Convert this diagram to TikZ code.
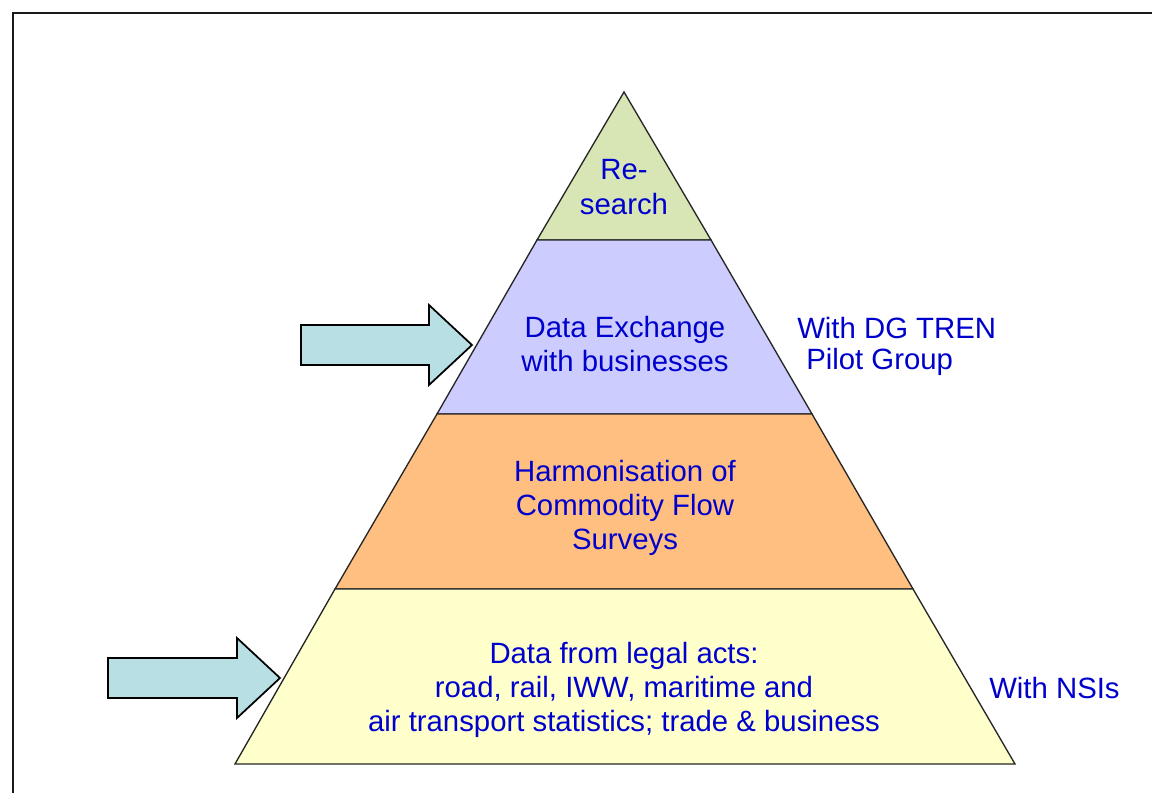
\documentclass[tikz,border=0pt]{standalone}
\usepackage{fontspec}
\setmainfont{Liberation Sans}
\definecolor{txtblue}{HTML}{0000CC}
\definecolor{lvgreen}{HTML}{D8E6B6}
\definecolor{lvlav}{HTML}{CCCCFF}
\definecolor{lvorange}{HTML}{FFBF80}
\definecolor{lvyellow}{HTML}{FFFFCC}
\definecolor{arrfill}{HTML}{B8DFE3}
\begin{document}
\begin{tikzpicture}[x=0.75pt,y=-0.75pt,
  layer/.style={draw=black!85,line width=1pt,line join=miter},
  lbl/.style={text=txtblue,font=\fontsize{22}{25.8}\selectfont,align=center,inner sep=0pt},
  sidelbl/.style={text=txtblue,font=\fontsize{22}{25.5}\selectfont,align=left,inner sep=0pt,anchor=west},
  bigarrow/.style={draw=black,line width=1.3pt,fill=arrfill,line join=miter}]
\useasboundingbox (0,0) rectangle (1152,792);
\fill[white] (0,0) rectangle (1152,792);
% frame
\draw[line width=1.8pt,black!90] (13,800) -- (13,13) -- (1160,13);
% pyramid layers
\coordinate (apex) at (624,92);
\filldraw[layer,fill=lvgreen] (apex) -- (711,240) -- (537,240) -- cycle;
\filldraw[layer,fill=lvlav] (537,240) -- (711,240) -- (812,414) -- (437,414) -- cycle;
\filldraw[layer,fill=lvorange] (437,414) -- (812,414) -- (913,589) -- (335,589) -- cycle;
\filldraw[layer,fill=lvyellow] (335,589) -- (913,589) -- (1015,764) -- (235,764) -- cycle;
% labels
\node[lbl] (research) at (624,187) {Re-\\search};
\node[lbl] (exchange) at (625,344) {Data Exchange\\with businesses};
\node[lbl] (harmon) at (625,508) {Harmonisation of\\Commodity Flow\\Surveys};
\node[lbl] (legal) at (624,690) {Data from legal acts:\\road, rail, IWW, maritime and\\air transport statistics; trade \& business};
\node[sidelbl] (dgtren) at (797,328) {With DG TREN};
\node[sidelbl] (pilot) at (806,362) {Pilot Group};
\node[sidelbl] (nsis) at (989,688) {With NSIs};
% arrows
\filldraw[bigarrow] (301,325) -- (429,325) -- (429,305) -- (472,345) -- (429,385) -- (429,365) -- (301,365) -- cycle;
\filldraw[bigarrow] (108,658) -- (237,658) -- (237,638) -- (280,678) -- (237,718) -- (237,698) -- (108,698) -- cycle;
\end{tikzpicture}
\end{document}
